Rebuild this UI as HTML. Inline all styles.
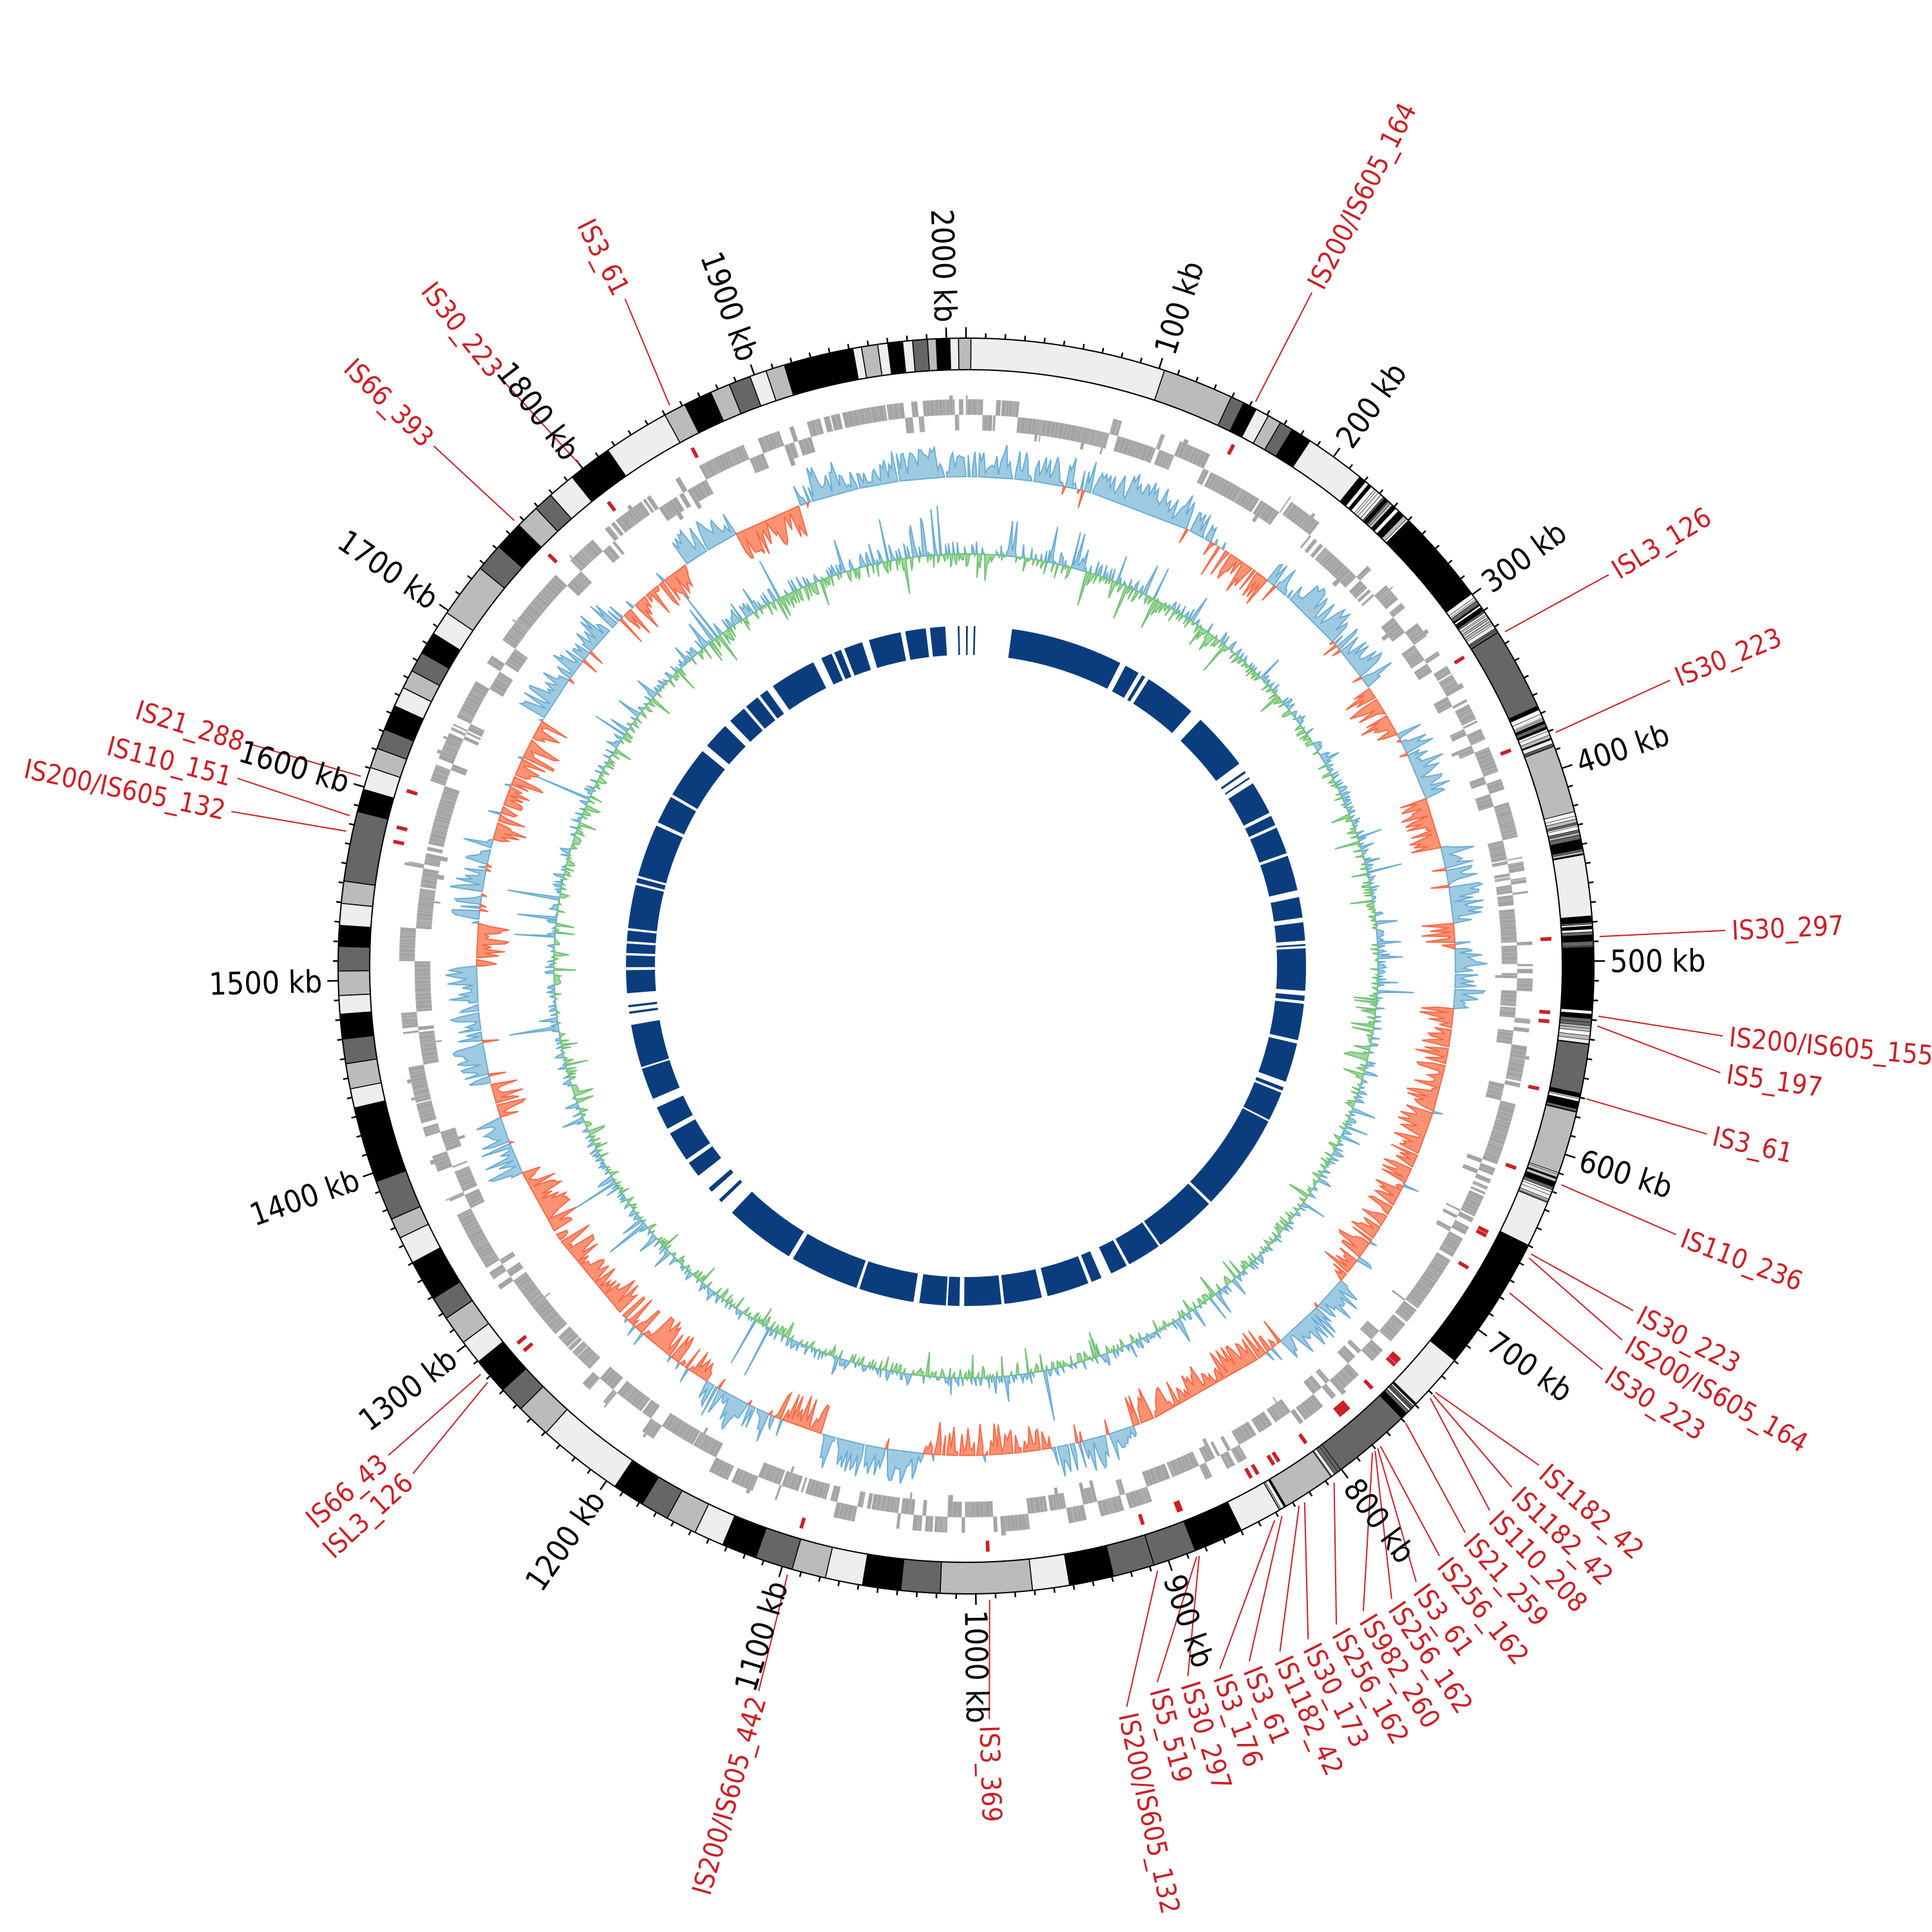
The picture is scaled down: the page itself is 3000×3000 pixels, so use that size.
<!DOCTYPE html>
<html><head><meta charset="utf-8"><style>
html,body{margin:0;padding:0;background:#fff;}
svg{display:block;}
.tk{font-family:"DejaVu Sans Condensed","DejaVu Sans","Liberation Sans",sans-serif;font-size:48px;fill:#000;}
.is{font-family:"DejaVu Sans Condensed","DejaVu Sans","Liberation Sans",sans-serif;font-size:42px;fill:#cc1f26;}
</style></head><body>
<svg id="s" xmlns="http://www.w3.org/2000/svg" width="3000" height="3000" viewBox="0 0 3000 3000">
<rect width="3000" height="3000" fill="#fff"/>
<g id="g"></g>
<g id="tl">
<text class="tk">100 kb</text><text class="tk">200 kb</text><text class="tk">300 kb</text><text class="tk">400 kb</text><text class="tk">500 kb</text>
<text class="tk">600 kb</text><text class="tk">700 kb</text><text class="tk">800 kb</text><text class="tk">900 kb</text><text class="tk">1000 kb</text>
<text class="tk">1100 kb</text><text class="tk">1200 kb</text><text class="tk">1300 kb</text><text class="tk">1400 kb</text><text class="tk">1500 kb</text>
<text class="tk">1600 kb</text><text class="tk">1700 kb</text><text class="tk">1800 kb</text><text class="tk">1900 kb</text><text class="tk">2000 kb</text>
</g>
<g id="il">
<text class="is">IS200/IS605_164</text>
<text class="is">ISL3_126</text>
<text class="is">IS30_223</text>
<text class="is">IS30_297</text>
<text class="is">IS200/IS605_155</text>
<text class="is">IS5_197</text>
<text class="is">IS3_61</text>
<text class="is">IS110_236</text>
<text class="is">IS30_223</text>
<text class="is">IS200/IS605_164</text>
<text class="is">IS30_223</text>
<text class="is">IS1182_42</text>
<text class="is">IS1182_42</text>
<text class="is">IS110_208</text>
<text class="is">IS21_259</text>
<text class="is">IS256_162</text>
<text class="is">IS3_61</text>
<text class="is">IS256_162</text>
<text class="is">IS982_260</text>
<text class="is">IS256_162</text>
<text class="is">IS30_173</text>
<text class="is">IS1182_42</text>
<text class="is">IS3_61</text>
<text class="is">IS3_176</text>
<text class="is">IS30_297</text>
<text class="is">IS5_519</text>
<text class="is">IS200/IS605_132</text>
<text class="is">IS3_369</text>
<text class="is">IS200/IS605_442</text>
<text class="is">ISL3_126</text>
<text class="is">IS66_43</text>
<text class="is">IS200/IS605_132</text>
<text class="is">IS110_151</text>
<text class="is">IS21_288</text>
<text class="is">IS66_393</text>
<text class="is">IS30_223</text>
<text class="is">IS3_61</text>
</g>
</svg>
<script>
(function(){
var C=1500,F=3000/1562,D=Math.PI/180;
var seed=987654;function rnd(){seed=(seed*1664525+1013904223)>>>0;return seed/4294967296;}
function P(r,a){return [C+r*Math.sin(a*D),C-r*Math.cos(a*D)];}
function f(p){return p[0].toFixed(1)+' '+p[1].toFixed(1);}
function A(x,y){var a=Math.atan2(x*F-C,C-y*F)/D;return (a+360)%360;}
function Rd(x,y){return Math.hypot(x*F-C,y*F-C);}
function sec(r1,r2,a1,a2){var l=(a2-a1)>180?1:0;
 return 'M'+f(P(r2,a1))+'A'+r2+' '+r2+' 0 '+l+' 1 '+f(P(r2,a2))+'L'+f(P(r1,a2))+'A'+r1+' '+r1+' 0 '+l+' 0 '+f(P(r1,a1))+'Z';}
var out=[];
var N1=483,N2=528;
out.push('<circle cx="1500" cy="1500" r="'+((N1+N2)/2)+'" fill="none" stroke="#0b3d7e" stroke-width="'+(N2-N1)+'"/>');
var gaps=[[356.5,367.8],[27,28],[30.5,31.2],[31.8,32.5],[41.5,43.6],[53.5,57.5],[63.2,63.8],[65.5,66],[70.6,71.1],[77.1,78.3],[81.8,82.6],[85.7,86.3],[86.6,87],[94.2,95],[95.9,96.4],[102.6,103.2],[109.9,110.9],[111.5,111.9],[116.9,117.2],[133.9,134.4],[145.1,145.5],[151.3,151.8],[154.7,156.5],[158.3,158.9],[166.1,167.1],[173.5,174],[180.3,181.1],[183.1,183.4],[187.9,188.9],[198.3,198.8],[210.6,211.4],[223.5,231.9],[234.6,235.3],[240.5,241.4],[245.4,247],[252.4,252.7],[260,265.4],[269.3,269.8],[271.8,272.2],[273.8,274.2],[276,276.4],[283.8,284.2],[285,285.4],[294.4,295],[299.8,300.3],[309.2,310.4],[314.9,316.1],[319.2,319.7],[322.2,322.7],[324.2,325.4],[333.3,334.8],[336.7,337.2],[338.4,339],[342.2,343.4],[348.9,349.7],[353.2,353.9]];
gaps.forEach(function(g){out.push('<path d="'+sec(N1-2,N2+2,g[0],g[1])+'" fill="#fff"/>');});
[[358.6,358.9],[0,0.3],[1.3,1.6],[55,55.4],[56.3,56.6],[226,226.6],[228.4,229.2],[261.9,262.3],[263,263.4]].forEach(function(g){
 out.push('<path d="'+sec(N1,N2,g[0],g[1])+'" fill="#0b3d7e"/>');});
function plot(base,vals,step,fillP,strP,fillN,strN){
 var n=vals.length;
 function runs(sign,fill,str){
  var i=0;
  while(i<n){
   if(sign*vals[i]>0){
    var j=i;var pts=[f(P(base,i*step))];
    while(j<n&&sign*vals[j]>0){pts.push(f(P(base+vals[j],j*step)));j++;}
    pts.push(f(P(base,j*step)));
    out.push('<path d="M'+pts.join('L')+'Z" fill="'+fill+'" stroke="'+str+'" stroke-width="2"/>');
    i=j;
   } else i++;
  }
 }
 runs(1,fillP,strP);runs(-1,fillN,strN);
}
var reg=[[0,30,1],[30,38,-1],[38,55,1],[55,62,-1],[62,70,1],[70,76,-1],[76,85,1],[85,88,-1],[88,95,1],[95,130,-1],[130,140,1],[140,160,-1],[160,170,1],[170,185,-1],[185,197,1],[197,203,-1],[203,212,1],[212,245,-1],[245,252,1],[252,256,-1],[256,270,1],[270,275,-1],[275,285,1],[285,300,-1],[300,315,1],[315,325,-1],[325,332,1],[332,340,-1],[340,360,1]];
function rt(a){for(var k=0;k<reg.length;k++)if(a>=reg[k][0]&&a<reg[k][1])return reg[k][2];return 1;}
var NS=1440,st=360/NS,sk=[];
for(var i=0;i<NS;i++){var a=i*st;var t=rt(a);
 var v;
 var u=rnd();
 if(u<0.06)v=0;
 else if(u<0.1)v=-t*(5+rnd()*25);
 else v=t*(4+48*Math.pow(rnd(),1.3));
 sk.push(Math.max(-56,Math.min(56,v)));}
plot(760,sk,st,'#9ecae1','#6baed6','#fc9272','#fb6a4a');
var NC=1800,sc=360/NC,gc=[];
for(var i=0;i<NC;i++){var a=i*sc;var amp=(a<40||a>320)?1.5:1;
 var v=(rnd()*2-1)*14*amp;
 if(rnd()<0.12)v=(rnd()*2-1)*40*amp;
 if(rnd()<0.01)v=50+rnd()*40;
 gc.push(Math.max(-85,Math.min(95,v)));}
plot(640,gc,sc,'#9ecae1','#6baed6','#a1d99b','#74c476');
var a=0,lane=rnd()<0.5?0:1,gs='';
while(a<360){
 var len=0.1+rnd()*0.4;
 if(rnd()<0.15)lane=1-lane;
 var r1=lane?832:856,r2=lane?856:880;
 var e=Math.min(a+len,360);
 if(rnd()<0.05){r1=lane?822:856;r2=lane?856:886;}
 gs+=sec(r1,r2,a,e);
 a=e+(rnd()<0.08?rnd()*0.5:0.015);
}
out.push('<path d="'+gs+'" fill="#a4a4a4" stroke="#bdbdbd" stroke-width="0.6"/>');
var K=[[785,275,'#eee'],[942,298,'#bbb'],[995,322,'#666'],[1005,327,'#000'],[1015,332,'#eee'],[1025,337,'#bbb'],[1035,342,'#666'],[1045,347,'#000'],[1060,355,'#eee'],[1100,385,'S'],[1140,422,'#000'],[1190,480,'S'],[1210,512,'#666'],[1245,570,'S'],[1260,602,'#bbb'],[1278,655,'S'],[1285,690,'#eee'],[1293,740,'S'],[1295,768,'#000'],[1295,815,'S'],[1290,845,'#666'],[1282,885,'S'],[1278,900,'#bbb'],[1265,950,'S'],[1258,975,'#eee'],[1242,1010,'#000'],[1170,1095,'#eee'],[1140,1130,'S'],[1130,1143,'#666'],[1080,1183,'S'],[1072,1188,'#bbb'],[1035,1210,'S'],[1030,1213,'#eee'],[1000,1230,'#000'],[965,1250,'#666'],[932,1262,'#666'],[900,1273,'#000'],[865,1283,'#eee'],[835,1288,'#bbb'],[760,1290,'#666'],[728,1287,'#000'],[697,1283,'#eee'],[667,1277,'#bbb'],[640,1270,'#666'],[610,1262,'#000'],[583,1252,'#eee'],[560,1243,'#bbb'],[538,1230,'#666'],[518,1218,'#000'],[495,1205,'#eee'],[440,1160,'#bbb'],[420,1140,'#666'],[405,1125,'#000'],[388,1100,'#eee'],[375,1085,'#bbb'],[362,1065,'#666'],[350,1050,'#000'],[335,1020,'#eee'],[325,1000,'#bbb'],[318,985,'#666'],[305,955,'#000'],[290,895,'#eee'],[285,880,'#bbb'],[280,860,'#666'],[278,840,'#000'],[275,820,'#eee'],[272,805,'#bbb'],[272,785,'#666'],[272,765,'#000'],[272,748,'#eee'],[273,730,'#bbb'],[276,712,'#666'],[285,655,'#000'],[290,637,'#eee'],[298,620,'#bbb'],[305,605,'#666'],[312,590,'#000'],[322,572,'#eee'],[330,558,'#bbb'],[338,545,'#666'],[345,530,'#000'],[355,515,'#eee'],[365,498,'#bbb'],[395,465,'#666'],[410,448,'#000'],[425,430,'#bbb'],[440,418,'#666'],[452,408,'#eee'],[470,395,'#000'],[497,372,'#eee'],[540,340,'#bbb'],[555,330,'#000'],[575,318,'#bbb'],[590,312,'#666'],[607,306,'#eee'],[620,302,'#bbb'],[635,298,'#000'],[690,285,'#eee'],[697,284,'#bbb'],[710,282,'#eee'],[718,280,'#000'],[730,279,'#eee'],[738,278,'#666'],[750,277,'#bbb'],[757,276,'#000'],[768,276,'#eee'],[775,275,'#bbb']];
var KR1=926,KR2=975,angs=K.map(function(k){return A(k[0],k[1]);});
var a0=angs[0];
for(var i=0;i<K.length;i++){
 var s1=angs[i],s2=(i+1<K.length)?angs[i+1]:a0+360;
 if(i>0&&s1<a0-1)s1+=360; if(i+1<K.length&&s2<a0-1)s2+=360;
 if(s2<=s1)continue;
 if(K[i][2]==='S'){
  var cols=['#000','#eee','#bbb','#666','#000','#fff'],x=s1;
  while(x<s2){var w=Math.min(0.12+rnd()*0.3,s2-x);
   out.push('<path d="'+sec(KR1,KR2,x,x+w)+'" fill="'+cols[Math.floor(rnd()*cols.length)]+'" stroke="#000" stroke-width="0.6"/>');x+=w;}
 } else out.push('<path d="'+sec(KR1,KR2,s1,s2)+'" fill="'+K[i][2]+'" stroke="#000" stroke-width="1.5"/>');
}
out.push('<circle cx="1500" cy="1500" r="'+KR2+'" fill="none" stroke="#000" stroke-width="2"/>');
out.push('<circle cx="1500" cy="1500" r="'+KR1+'" fill="none" stroke="#000" stroke-width="2"/>');
var L=2010,tk='';
for(var k=0;k<=200;k++){var ang=k*10/L*360;var maj=k%10===0;
 tk+='M'+f(P(KR2,ang))+'L'+f(P(KR2+(maj?17:8),ang));}
out.push('<path d="'+tk+'" stroke="#000" stroke-width="2.5" fill="none"/>');
var tls=document.querySelectorAll('#tl text');
for(var k=0;k<20;k++){var ang=(k+1)*100/L*360;var p=P(1000,ang);var el=tls[k];
 el.setAttribute('dy','0.36em');
 if(ang<=180){el.setAttribute('transform','translate('+f(p).replace(' ',',')+') rotate('+(ang-90).toFixed(2)+')');el.setAttribute('text-anchor','start');}
 else{el.setAttribute('transform','translate('+f(p).replace(' ',',')+') rotate('+(ang+90).toFixed(2)+')');el.setAttribute('text-anchor','end');}}
var IS=[[1015,325,1063,232],[1218,510,1305,462],[1258,592,1355,548],[1297,757,1400,752],[1297,822,1398,838],[1296,830,1396,868],[1290,890,1385,918],[1268,960,1360,1000],[1240,1015,1325,1062],[1238,1018,1316,1086],[1225,1048,1300,1110],[1162,1127,1248,1188],[1160,1129,1226,1206],[1157,1131,1208,1225],[1133,1147,1188,1243],[1115,1168,1167,1262],[1113,1170,1148,1283],[1111,1172,1128,1297],[1109,1174,1105,1307],[1076,1195,1083,1318],[1055,1215,1060,1330],[1050,1217,1037,1340],[1036,1225,1012,1348],[1030,1228,988,1354],[968,1254,962,1360],[966,1255,937,1365],[935,1267,912,1385],[800,1290,800,1395],[637,1272,612,1372],[395,1117,330,1195],[390,1110,310,1180],[280,672,182,655],[285,660,187,628],[293,628,197,600],[420,425,347,357],[468,375,402,302],[541,327,503,237]];
var ils=document.querySelectorAll('#il text'),ld='',mk='';
IS.forEach(function(q,k){
 var am=A(q[0],q[1]),al=A(q[2],q[3]),rl=Rd(q[2],q[3]);
 mk+=sec(893,910,am-0.18,am+0.18);
 ld+='M'+f(P(985,am))+'L'+f(P(rl-10,al));
 var el=ils[k],p=P(rl,al);el.setAttribute('dy','0.36em');
 if(al<=180){el.setAttribute('transform','translate('+f(p).replace(' ',',')+') rotate('+(al-90).toFixed(2)+')');el.setAttribute('text-anchor','start');}
 else{el.setAttribute('transform','translate('+f(p).replace(' ',',')+') rotate('+(al+90).toFixed(2)+')');el.setAttribute('text-anchor','end');}
});
out.push('<path d="'+mk+'" fill="#cc1f26"/>');
out.push('<path d="'+ld+'" stroke="#cc1f26" stroke-width="2" fill="none"/>');
document.getElementById('g').innerHTML=out.join('');
})();
</script>
</body></html>
